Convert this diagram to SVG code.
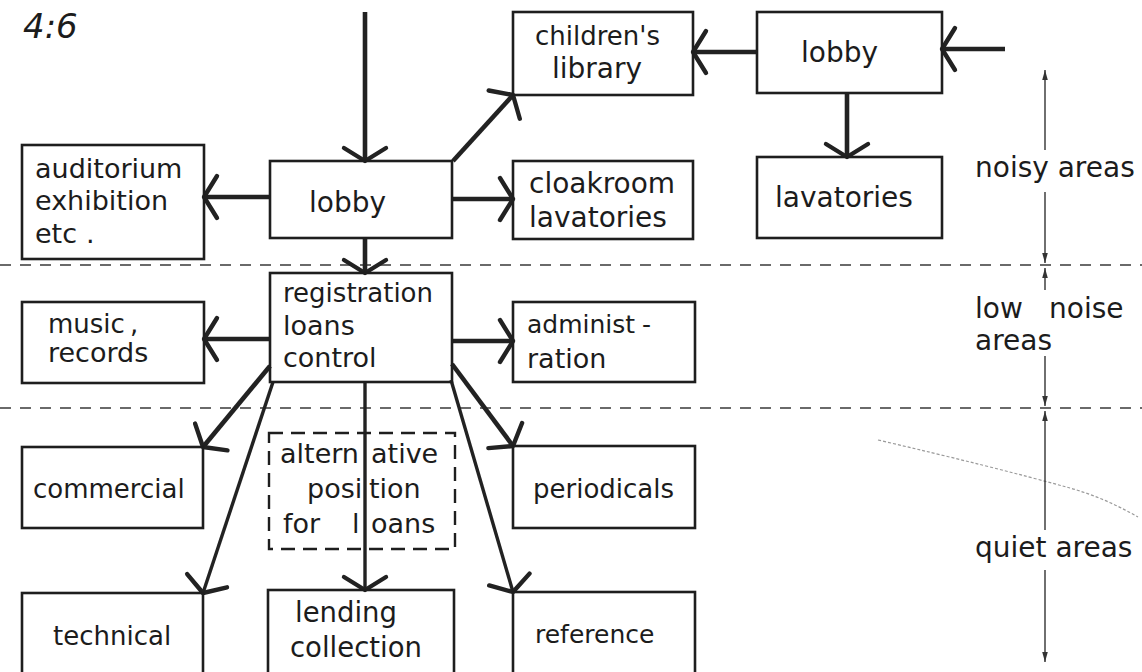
<svg xmlns="http://www.w3.org/2000/svg" width="1142" height="672" viewBox="0 0 1142 672">
  <style>
    .box { fill: none; stroke: #1e1e1e; stroke-width: 2.6; }
    .alt { fill: none; stroke: #1e1e1e; stroke-width: 2.4; stroke-dasharray: 14 8; }
    .zone { fill: none; stroke: #3a3a3a; stroke-width: 1.6; stroke-dasharray: 11 9; }
    .flow { fill: none; stroke: #222; stroke-width: 4.6; marker-end: url(#vee); }
    .flow.thin { stroke-width: 3.4; }
    .scale { fill: none; stroke: #333; stroke-width: 1.4; marker-end: url(#tick); }
    text { font-family: "DejaVu Sans", "Liberation Sans", sans-serif; font-size: 26px; fill: #1c1c1c; }
    .big { font-size: 28px; }
    .title { font-size: 34px; font-style: italic; }
  </style>
  <defs>
    <!-- open V arrowhead for the flow lines -->
    <marker id="vee" markerUnits="userSpaceOnUse" viewBox="-18 -26 22 52" refX="0" refY="0" markerWidth="22" markerHeight="52" orient="auto" overflow="visible">
      <path d="M-13,-21 L0,0 L-13,21" fill="none" stroke="#222" stroke-width="4.4" stroke-linecap="round" stroke-linejoin="round"/>
    </marker>
    <!-- small solid arrowhead for the zone scale -->
    <marker id="tick" markerUnits="userSpaceOnUse" viewBox="-11 -4 12 8" refX="0" refY="0" markerWidth="12" markerHeight="8" orient="auto" overflow="visible">
      <path d="M0,0 L-10,-2.8 L-10,2.8 Z" fill="#333"/>
    </marker>
  </defs>

  <rect width="1142" height="672" fill="#ffffff"/>

  <text class="title" x="23" y="38">4:6</text>

  <!-- zone boundaries -->
  <g id="zones">
    <line class="zone" x1="0" y1="265" x2="1142" y2="265"/>
    <line class="zone" x1="0" y1="408" x2="1142" y2="408"/>
    <path d="M878,440 Q990,466 1070,488 Q1105,498 1138,517" fill="none" stroke="#9a9a9a" stroke-width="1.2" stroke-dasharray="3 2"/>
  </g>

  <!-- zone scale on the right -->
  <g id="scale">
    <path class="scale" d="M1045,150 L1045,70"/>
    <path class="scale" d="M1045,192 L1045,263"/>
    <path class="scale" d="M1045,290 L1045,268"/>
    <path class="scale" d="M1045,356 L1045,406"/>
    <path class="scale" d="M1045,530 L1045,411"/>
    <path class="scale" d="M1045,570 L1045,662"/>
    <text class="big" x="975" y="177">noisy areas</text>
    <text class="big" x="975" y="318">low<tspan x="1049">noise</tspan></text>
    <text class="big" x="975" y="350">areas</text>
    <text class="big" x="975" y="557">quiet areas</text>
  </g>

  <!-- connectors -->
  <g id="connectors">
    <path class="flow" d="M365,12 L365,161"/>
    <path class="flow" d="M453,161 L513,95"/>
    <path class="flow" d="M757,52 L693,52"/>
    <path class="flow" d="M1005,49 L942,49"/>
    <path class="flow" d="M847,93 L847,157"/>
    <path class="flow" d="M270,197 L204,197"/>
    <path class="flow" d="M452,199 L513,199"/>
    <path class="flow" d="M365,238 L365,273"/>
    <path class="flow" d="M270,339 L204,339"/>
    <path class="flow" d="M452,341 L513,341"/>
    <path class="flow" d="M270,366 L203,447"/>
    <path class="flow thin" d="M273,382 L203,593"/>
    <path class="flow thin" d="M365,382 L365,590"/>
    <path class="flow" d="M452,364 L513,446"/>
    <path class="flow thin" d="M451,380 L513,592"/>
  </g>

  <!-- noisy areas -->
  <g id="childrens-library">
    <rect class="box" x="513" y="12" width="180" height="83"/>
    <text x="535" y="45">children's</text>
    <text class="big" x="552" y="78">library</text>
  </g>
  <g id="lobby-side">
    <rect class="box" x="757" y="12" width="185" height="81"/>
    <text class="big" x="801" y="62">lobby</text>
  </g>
  <g id="lavatories">
    <rect class="box" x="757" y="157" width="185" height="81"/>
    <text class="big" x="775" y="207">lavatories</text>
  </g>
  <g id="auditorium">
    <rect class="box" x="22" y="145" width="182" height="114"/>
    <text x="35" y="178" style="font-size:27px">auditorium</text>
    <text x="35" y="210" style="font-size:27px">exhibition</text>
    <text x="35" y="243" style="font-size:27px">etc<tspan x="86">.</tspan></text>
  </g>
  <g id="lobby-main">
    <rect class="box" x="270" y="161" width="182" height="77"/>
    <text class="big" x="309" y="212">lobby</text>
  </g>
  <g id="cloakroom">
    <rect class="box" x="513" y="161" width="180" height="78"/>
    <text class="big" x="529" y="193">cloakroom</text>
    <text class="big" x="529" y="227">lavatories</text>
  </g>

  <!-- low noise areas -->
  <g id="registration">
    <rect class="box" x="270" y="273" width="182" height="109"/>
    <text x="283" y="302">registration</text>
    <text x="283" y="335" style="font-size:27px">loans</text>
    <text x="283" y="367" style="font-size:27px">control</text>
  </g>
  <g id="music">
    <rect class="box" x="22" y="302" width="182" height="81"/>
    <text x="48" y="333">music<tspan x="130">,</tspan></text>
    <text x="48" y="362" style="font-size:27px">records</text>
  </g>
  <g id="administration">
    <rect class="box" x="513" y="302" width="182" height="80"/>
    <text x="527" y="333" style="font-size:25px">administ</text>
    <text x="642" y="333" style="font-size:25px">-</text>
    <text x="527" y="368" style="font-size:27px">ration</text>
  </g>

  <!-- quiet areas -->
  <g id="commercial">
    <rect class="box" x="22" y="447" width="181" height="81"/>
    <text x="33" y="498">commercial</text>
  </g>
  <g id="alternative-loans">
    <rect class="alt" x="269" y="433" width="186" height="116"/>
    <text x="280" y="463" style="font-size:27px">altern<tspan x="371">ative</tspan></text>
    <text x="307" y="498" style="font-size:27px">posi<tspan x="369">tion</tspan></text>
    <text x="283" y="533" style="font-size:27px">for<tspan x="352">l</tspan><tspan x="371">oans</tspan></text>
  </g>
  <g id="periodicals">
    <rect class="box" x="513" y="446" width="182" height="82"/>
    <text x="533" y="498">periodicals</text>
  </g>
  <g id="technical">
    <rect class="box" x="22" y="593" width="181" height="90"/>
    <text x="53" y="645">technical</text>
  </g>
  <g id="lending">
    <rect class="box" x="268" y="590" width="186" height="93"/>
    <text x="295" y="622" style="font-size:27.5px">lending</text>
    <text x="290" y="657" style="font-size:27.5px">collection</text>
  </g>
  <g id="reference">
    <rect class="box" x="513" y="592" width="182" height="91"/>
    <text x="535" y="643" style="font-size:25px">reference</text>
  </g>
</svg>
